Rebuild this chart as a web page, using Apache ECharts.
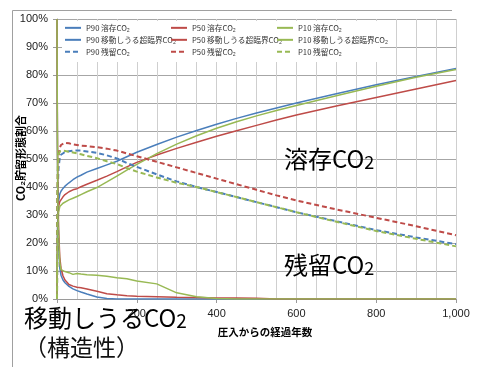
<!DOCTYPE html>
<html>
<head>
<meta charset="utf-8">
<script src="https://cdn.jsdelivr.net/npm/echarts@6/dist/echarts.min.js"></script>
<style>
  html, body { margin: 0; padding: 0; background: #fff; }
  #chart { width: 482px; height: 367px; }
</style>
</head>
<body>
<div id="chart"></div>
<script>
// Years since injection, shared by every series
const years = [0, 1, 2, 4, 7, 10, 15, 20, 30, 40, 50, 60, 75, 100, 125, 150, 175, 200,
  250, 300, 350, 400, 450, 500, 550, 600, 700, 800, 900, 1000];

// Dissolved CO2 (%)
const p90Dissolved = [0, 22, 30, 35, 37.5, 38.5, 39.5, 40.3, 41.5, 42.6, 43.5, 44.2, 45.3, 46.6, 47.9, 49.2, 50.8, 52.4,
  55.2, 57.8, 60.2, 62.4, 64.5, 66.4, 68.2, 70, 73.3, 76.5, 79.5, 82.3];
const p50Dissolved = [0, 20, 28, 33, 34.8, 35.5, 36.5, 37.3, 38.3, 39, 39.4, 40.1, 41, 42.4, 43.9, 45.5, 47.2, 48.8,
  51.4, 53.8, 56, 58.1, 60.1, 62, 63.9, 65.7, 68.9, 72, 75, 78];
const p10Dissolved = [0, 18, 26, 31, 33, 33.6, 34.2, 34.7, 35.4, 36, 36.6, 37.3, 38.3, 39.8, 41.8, 43.9, 46, 48.1,
  51.9, 55.3, 58.3, 61, 63.3, 65.4, 67.3, 69.1, 72.6, 76, 79.2, 82];

// Mobile supercritical CO2 (%)
const p90Mobile = [100, 55, 35, 20, 11, 8.5, 6.8, 5.8, 4.5, 3.6, 3, 2.5, 1.8, 0.7, 0.2, 0, 0, 0,
  0, 0, 0, 0, 0, 0, 0, 0, 0, 0, 0, 0];
const p50Mobile = [100, 60, 40, 25, 15, 11, 8.3, 6.8, 5.2, 4.6, 4.2, 4, 3.6, 2.8, 1.9, 1.5, 1.2, 1,
  0.8, 0.6, 0.5, 0.4, 0.35, 0.3, 0, 0, 0, 0, 0, 0];
const p10Mobile = [100, 60, 38, 22, 13, 10.5, 10, 9.8, 9.4, 8.8, 9.1, 8.9, 8.7, 8.5, 8.1, 7.6, 7.2, 6.4,
  5.4, 2.2, 0.8, 0.2, 0, 0, 0, 0, 0, 0, 0, 0];

// Residual CO2 (%)
const p90Residual = [0, 30, 40, 47, 50.5, 51.5, 52.2, 52.5, 52.8, 53, 53, 53, 52.7, 52.2, 51.3, 50.2, 48.6, 47.2,
  44.5, 42, 40, 38.2, 36.4, 34.6, 32.8, 31, 27.8, 24.6, 22, 19.6];
const p50Residual = [0, 35, 45, 51, 54, 55, 55.6, 55.8, 55.6, 55.2, 55, 54.8, 54.6, 54.2, 53.7, 53, 52, 51,
  49, 47, 45, 43, 41, 39, 37, 35.2, 32, 29, 26, 22.8];
const p10Residual = [0, 38, 47, 51.5, 52.7, 53, 53, 52.9, 52.6, 52.3, 52, 51.7, 51.1, 50.3, 49.2, 48.2, 46.8, 45.5,
  43.4, 41.5, 40, 38.2, 36.4, 34.6, 32.8, 31, 27.6, 24.3, 21.5, 18.8];

const BLUE = '#4a7ebb', RED = '#be4b48', GREEN = '#98b954';
const JP = '"Noto Sans CJK JP", sans-serif';
const LAT = '"Liberation Sans", Arial, sans-serif';

function pairs(vals) { return years.map((y, i) => [y, vals[i]]); }

function line(name, vals, color, dashed) {
  return {
    name: name,
    type: 'line',
    data: pairs(vals),
    showSymbol: false,
    symbol: 'none',
    lineStyle: { color: color, width: dashed ? 2 : 1.5, type: dashed ? [5, 3] : 'solid' },
    itemStyle: { color: color },
    emphasis: { disabled: true }
  };
}

const series = [
  line('P90 溶存CO₂', p90Dissolved, BLUE, false),
  line('P50 溶存CO₂', p50Dissolved, RED, false),
  line('P10 溶存CO₂', p10Dissolved, GREEN, false),
  line('P90 移動しうる超臨界CO₂', p90Mobile, BLUE, false),
  line('P50 移動しうる超臨界CO₂', p50Mobile, RED, false),
  line('P10 移動しうる超臨界CO₂', p10Mobile, GREEN, false),
  line('P90 残留CO₂', p90Residual, BLUE, true),
  line('P50 残留CO₂', p50Residual, RED, true),
  line('P10 残留CO₂', p10Residual, GREEN, true)
];

function legendColumn(left, pct) {
  return {
    orient: 'vertical',
    left: left,
    top: 24,
    itemWidth: 16,
    itemHeight: 9,
    itemGap: 4.3,
    padding: 0,
    selectedMode: false,
    itemStyle: { opacity: 0 },
    data: ['溶存CO₂', '移動しうる超臨界CO₂', '残留CO₂'].map(s => pct + ' ' + s),
    textStyle: { fontFamily: JP, fontSize: 7.7, color: '#333' }
  };
}

function bigLabel(main, sub, left, top, size, subSize, lh) {
  return {
    type: 'text', left: left, top: top, z: 10,
    style: {
      text: '{m|' + main + '}{s|' + sub + '}',
      rich: {
        m: { fontFamily: JP, fontSize: size, color: '#111', lineHeight: lh, verticalAlign: 'bottom' },
        s: { fontFamily: JP, fontSize: subSize, color: '#111', lineHeight: lh, verticalAlign: 'bottom' }
      }
    }
  };
}

const chart = echarts.init(document.getElementById('chart'), null, { renderer: 'canvas' });
chart.setOption({
  animation: false,
  backgroundColor: '#fff',
  grid: { left: 57, top: 19, width: 399, height: 280 },
  legend: [legendColumn(64, 'P90'), legendColumn(170, 'P50'), legendColumn(276, 'P10')],
  xAxis: {
    type: 'value',
    min: 0, max: 1000, interval: 200,
    axisLine: { show: true, lineStyle: { color: '#9a9a9a', width: 1 } },
    axisTick: { show: true, length: 4, lineStyle: { color: '#9a9a9a' } },
    axisLabel: {
      margin: 9, fontFamily: LAT, fontSize: 11, color: '#222',
      formatter: v => v.toLocaleString('en-US')
    },
    splitLine: { show: true, lineStyle: { color: '#cfcfcf', width: 1 } },
    minorTick: { show: false, splitNumber: 4 },
    minorSplitLine: { show: true, lineStyle: { color: '#cfcfcf', width: 1 } }
  },
  yAxis: {
    type: 'value',
    min: 0, max: 100, interval: 10,
    axisLine: { show: true, lineStyle: { color: '#9a9a9a', width: 1 } },
    axisTick: { show: true, length: 4, lineStyle: { color: '#9a9a9a' } },
    axisLabel: { margin: 9, fontFamily: LAT, fontSize: 11, color: '#222', formatter: '{value}%' },
    splitLine: { show: true, lineStyle: { color: '#a6a6a6', width: 1 } }
  },
  graphic: [
    // chart-area frame
    { type: 'line', shape: { x1: 12.5, y1: 10.5, x2: 452, y2: 10.5 }, style: { stroke: '#a0a0a0', lineWidth: 1 }, z: 1 },
    { type: 'line', shape: { x1: 12.5, y1: 10.5, x2: 12.5, y2: 367 }, style: { stroke: '#a0a0a0', lineWidth: 1 }, z: 1 },
    // legend backdrop
    { type: 'rect', shape: { x: 62, y: 21, width: 318, height: 41 }, style: { fill: '#fff' }, z: 1 },
    // axis titles
    {
      type: 'text', x: 21, y: 158, rotation: Math.PI / 2, z: 5,
      style: { text: 'CO₂貯留形態割合', fontFamily: JP, fontSize: 11, fontWeight: 'bold', fill: '#000', align: 'center', verticalAlign: 'middle' }
    },
    {
      type: 'text', x: 265, y: 332, z: 5,
      style: { text: '圧入からの経過年数', fontFamily: JP, fontSize: 10.5, fontWeight: 'bold', fill: '#000', align: 'center', verticalAlign: 'middle' }
    },
    // annotations
    bigLabel('溶存CO', '2', 284, 147, 24, 18, 28),
    bigLabel('残留CO', '2', 284, 253, 24, 18, 28),
    bigLabel('移動しうるCO', '2', 24, 306, 24, 19, 30),
    {
      type: 'text', left: 24, top: 336, z: 10,
      style: { text: '（構造性）', fontFamily: JP, fontSize: 23, fill: '#111' }
    }
  ],
  series: series
});
</script>
</body>
</html>
